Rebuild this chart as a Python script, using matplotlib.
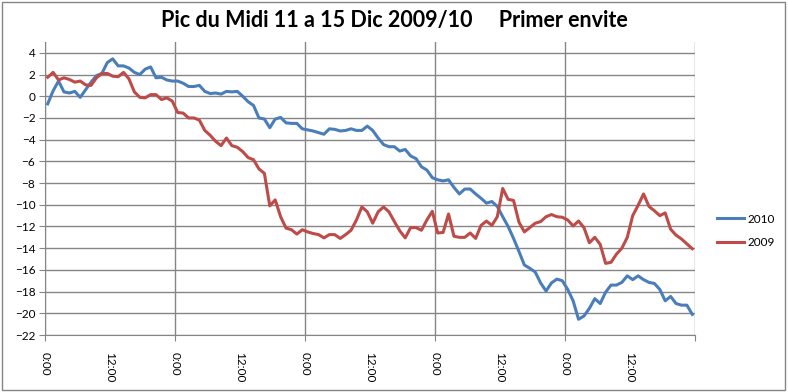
import numpy as np
import matplotlib
matplotlib.use('Agg')
import matplotlib.pyplot as plt
from matplotlib.patches import Rectangle

plt.rcParams['font.family'] = ['Lato', 'DejaVu Sans']

# hourly readings, 11-15 Dec (120 hours)
t2010 = [-0.7, 0.5, 1.4, 0.4, 0.3, 0.45, -0.1, 0.6, 1.3, 1.9, 2.1, 3.1,
         3.45, 2.8, 2.8, 2.6, 2.2, 2.0, 2.5, 2.7, 1.7, 1.75, 1.5, 1.4,
         1.4, 1.2, 0.9, 0.9, 1.0, 0.45, 0.25, 0.3, 0.2, 0.45, 0.4, 0.45,
         0.0, -0.5, -0.85, -2.0, -2.1, -2.9, -2.1, -1.95, -2.45, -2.5, -2.5, -3.0,
         -3.1, -3.2, -3.35, -3.5, -3.0, -3.05, -3.2, -3.15, -3.0, -3.15, -3.15, -2.75,
         -3.15, -3.85, -4.45, -4.65, -4.65, -5.05, -4.9, -5.5, -5.75, -6.5, -6.8, -7.5,
         -7.7, -7.8, -7.7, -8.4, -9.0, -8.55, -8.55, -9.0, -9.4, -9.85, -9.7, -10.15,
         -11.1, -12.0, -13.1, -14.3, -15.55, -15.85, -16.2, -17.2, -17.95, -17.2, -16.85, -17.0,
         -17.8, -18.85, -20.55, -20.25, -19.55, -18.65, -19.1, -18.05, -17.4, -17.4, -17.15, -16.55,
         -16.9, -16.55, -16.9, -17.15, -17.25, -17.8, -18.85, -18.45, -19.1, -19.25, -19.25, -20.1]

t2009 = [1.75, 2.2, 1.5, 1.7, 1.55, 1.3, 1.4, 1.05, 1.0, 1.7, 2.1, 2.1,
         1.85, 1.8, 2.2, 1.6, 0.4, -0.1, -0.15, 0.15, 0.15, -0.3, -0.15, -0.45,
         -1.5, -1.55, -2.0, -2.0, -2.2, -3.15, -3.6, -4.15, -4.55, -3.85, -4.55, -4.7,
         -5.1, -5.65, -5.85, -6.7, -7.1, -10.1, -9.55, -11.1, -12.15, -12.3, -12.7, -12.3,
         -12.5, -12.65, -12.75, -13.05, -12.75, -12.75, -13.1, -12.75, -12.35, -11.4, -10.2, -10.65,
         -11.7, -10.65, -10.2, -10.65, -11.55, -12.4, -13.05, -12.1, -12.1, -12.35, -11.4, -10.6,
         -12.6, -12.55, -10.85, -12.9, -13.0, -13.0, -12.6, -13.1, -11.9, -11.5, -11.9, -11.1,
         -8.5, -9.5, -9.6, -11.6, -12.5, -12.1, -11.7, -11.55, -11.1, -10.9, -11.1, -11.15,
         -11.4, -11.95, -11.5, -12.1, -13.5, -13.0, -13.65, -15.4, -15.3, -14.55, -14.0, -13.0,
         -11.0, -10.05, -9.0, -10.15, -10.55, -11.0, -10.75, -12.25, -12.8, -13.15, -13.6, -14.05]

day_labels = ['0:00', '0:00', '0:00', '0:00', '0:00', '']
noon_labels = ['12:00'] * 5

# category centres, in days
x = (np.arange(len(t2010)) + 0.5) / 24.0

fig = plt.figure(figsize=(7.88, 3.92), dpi=100)
ax = fig.add_axes([45 / 788, 57 / 392, 650 / 788, 293 / 392])

grid_c = '#868686'
ax.plot(x, t2010, color='#4a7ebb', lw=2.2, label='2010')
ax.plot(x, t2009, color='#be4b48', lw=2.2, label='2009')

ax.set_xlim(0, 5)
ax.set_ylim(-22, 5)
ax.set_yticks(np.arange(-22, 5, 2))
ax.set_xticks(np.arange(0, 6))
ax.set_xticklabels(day_labels)
ax.set_xticks(np.arange(0.5, 5, 1), minor=True)
ax.set_xticklabels(noon_labels, minor=True)

for lab in ax.get_xticklabels(which='both'):
    lab.set_rotation(-90)
ax.tick_params(axis='x', which='major', length=4, color=grid_c, labelsize=8.5, pad=8)
ax.tick_params(axis='x', which='minor', length=0, labelsize=8.5, pad=12)
ax.tick_params(axis='y', length=4, color=grid_c, labelsize=8.5, pad=3)

ax.grid(True, which='major', color=grid_c, lw=1)
ax.set_axisbelow(True)
for s in ['top', 'right']:
    ax.spines[s].set_visible(False)
for s in ['left', 'bottom']:
    ax.spines[s].set_color(grid_c)

fig.suptitle('Pic du Midi 11 a 15 Dic 2009/10     Primer envite',
             fontsize=15.5, fontweight='bold', x=0.5, y=0.975, va='top')

fig.legend(loc='center left', bbox_to_anchor=(717 / 788, 1 - 231 / 392),
           frameon=False, fontsize=8.5, handlelength=2.3, handletextpad=0.25,
           labelspacing=1.1, borderpad=0, borderaxespad=0)

fig.patches.append(Rectangle((2 / 788, 2 / 392), 783 / 788, 388 / 392,
                             transform=fig.transFigure, fill=False,
                             edgecolor=grid_c, lw=1))

plt.savefig('out.png', dpi=100)
